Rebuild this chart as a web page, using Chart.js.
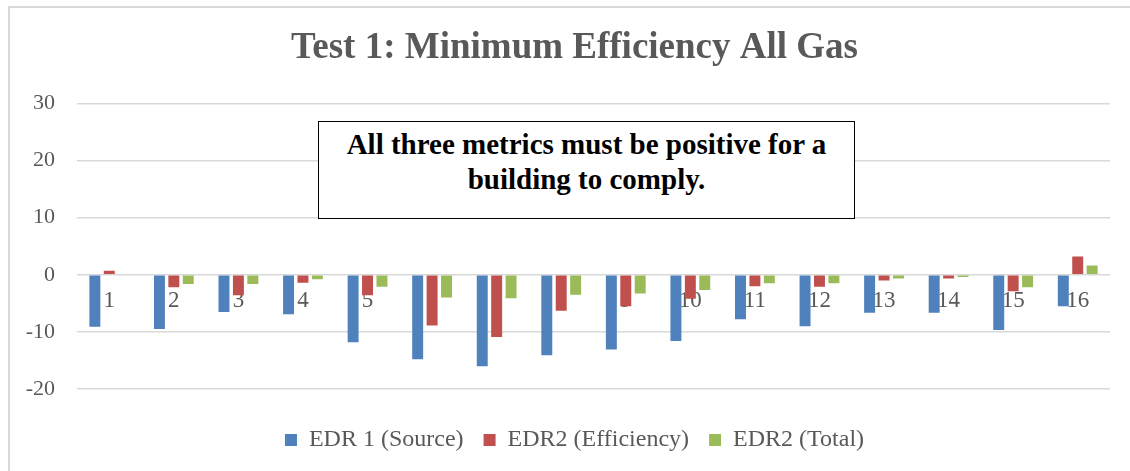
<!DOCTYPE html>
<html>
<head>
<meta charset="utf-8">
<script src="https://cdn.jsdelivr.net/npm/chart.js@4.4.1/dist/chart.umd.min.js"></script>
<style>
  html, body { margin: 0; padding: 0; background: #fff; }
  #wrap { position: relative; width: 1130px; height: 471px; overflow: hidden; }
  #box { position: absolute; left: 0; top: 0; width: 1149px; height: 471px; }
  #frame {
    position: absolute; left: 8px; top: 6px; width: 1200px; height: 600px;
    border-left: 2px solid #d9d9d9; border-top: 2px solid #d9d9d9;
    pointer-events: none;
  }
  #note {
    position: absolute; left: 318px; top: 121px; width: 537px; height: 98px;
    border: 1.5px solid #000; background: #fff; box-sizing: border-box;
    font-family: "Liberation Serif", serif; font-weight: bold; font-size: 29px;
    line-height: 35px; color: #000; text-align: center; padding-top: 5px;
  }
</style>
</head>
<body>
<div id="wrap">
  <div id="box"><canvas id="chart"></canvas></div>
  <div id="frame"></div>
  <div id="note">All three metrics must be positive for a<br>building to comply.</div>
</div>
<script>
// values
const categories = ["1", "2", "3", "4", "5", "6", "7", "8", "9", "10", "11", "12", "13", "14", "15", "16"];
const edr1Source = [-9.1, -9.5, -6.5, -6.9, -11.8, -14.8, -16.0, -14.1, -13.1, -11.6, -7.8, -9.0, -6.65, -6.65, -9.65, -5.5];
const edr2Efficiency = [0.7, -2.2, -3.6, -1.4, -3.6, -8.9, -10.9, -6.3, -5.5, -4.2, -2.0, -2.1, -1.0, -0.65, -2.9, 3.2];
const edr2Total = [0, -1.6, -1.6, -0.8, -2.1, -4.0, -4.1, -3.5, -3.3, -2.65, -1.5, -1.5, -0.65, -0.4, -2.2, 1.6];
const yTicks = [-20, -10, 0, 10, 20, 30];

const font = "'Liberation Serif', 'Times New Roman', serif";
const grey = "#595959";

const ctx = document.getElementById("chart").getContext("2d");

new Chart(ctx, {
  type: "bar",
  data: {
    labels: categories,
    datasets: [
      { label: "EDR 1 (Source)", data: edr1Source, backgroundColor: "#4F81BD", yAxisID: "y" },
      { label: "EDR2 (Efficiency)", data: edr2Efficiency, backgroundColor: "#C0504D", yAxisID: "y" },
      { label: "EDR2 (Total)", data: edr2Total, backgroundColor: "#9BBB59", yAxisID: "y" },
    ],
  },
  options: {
    responsive: true,
    maintainAspectRatio: false,
    animation: false,
    datasets: {
      bar: { categoryPercentage: 0.67, barPercentage: 0.76 },
    },
    layout: { padding: { left: 0, right: 0, top: 0, bottom: 9 } },
    plugins: {
      title: {
        display: true,
        text: "Test 1: Minimum Efficiency All Gas",
        color: grey,
        font: { family: font, size: 37, weight: "bold" },
        padding: { top: 26, bottom: 33 },
      },
      legend: {
        position: "bottom",
        // empty legend title used as a spacer above the legend row
        title: { display: true, text: "", font: { size: 1, lineHeight: 1 }, padding: { top: 18, bottom: 0 } },
        labels: {
          color: grey,
          font: { family: font, size: 24 },
          boxWidth: 12,
          boxHeight: 12,
          padding: 20,
        },
      },
      tooltip: { enabled: false },
    },
    scales: {
      x: {
        position: { y: 0 },
        grid: { display: false, drawTicks: false },
        border: { display: false },
        ticks: {
          color: grey,
          font: { family: font, size: 23 },
          padding: 12,
          autoSkip: false,
          maxRotation: 0,
        },
      },
      y: {
        min: yTicks[0],
        max: yTicks[yTicks.length - 1],
        afterBuildTicks: (scale) => {
          scale.ticks = yTicks.map((v) => ({ value: v }));
        },
        afterFit: (scale) => {
          scale.width = 77;
        },
        grid: { color: "#d9d9d9", lineWidth: 1.5, drawTicks: false },
        border: { display: false },
        ticks: {
          color: grey,
          font: { family: font, size: 22 },
          padding: 22,
        },
      },
      // blank right gutter so the plot ends where the original does
      gutter: {
        type: "linear",
        axis: "y",
        position: "right",
        grid: { display: false, drawTicks: false },
        border: { display: false },
        ticks: { display: false },
        afterFit: (scale) => {
          scale.width = 39;
        },
      },
    },
  },
});
</script>
</body>
</html>
